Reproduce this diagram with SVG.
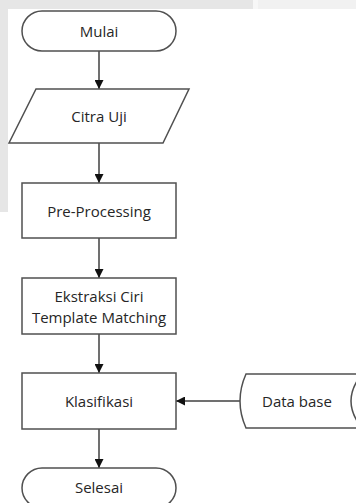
<svg xmlns="http://www.w3.org/2000/svg" width="356" height="503" viewBox="0 0 356 503">
<defs>
<style>
.shape{fill:#ffffff;stroke:#505050;stroke-width:1.5}
.lbl{font-family:"Open Sans","Liberation Sans",sans-serif;font-size:15px;fill:#262626;text-anchor:middle;dominant-baseline:central}
.conn{stroke:#404040;stroke-width:1.5;fill:none}
</style>
<marker id="ah" viewBox="0 0 10 10" refX="10" refY="5" markerWidth="9" markerHeight="9" markerUnits="userSpaceOnUse" orient="auto">
<path d="M0,0 L10,5 L0,10 Z" fill="#111111"/>
</marker>
</defs>
<rect x="0" y="0" width="356" height="503" fill="#ffffff"/>
<rect x="0" y="0" width="253" height="9" fill="#e6e6e6"/>
<rect x="253" y="0" width="5" height="9" fill="#f7f7f7"/>
<rect x="258" y="0" width="98" height="9" fill="#f1f1f1"/>
<rect x="0" y="0" width="8" height="212" fill="#e6e6e6"/>

<g id="connectors">
<line class="conn" x1="99" y1="51" x2="99" y2="89" marker-end="url(#ah)"/>
<line class="conn" x1="99" y1="143" x2="99" y2="183" marker-end="url(#ah)"/>
<line class="conn" x1="99" y1="238" x2="99" y2="278" marker-end="url(#ah)"/>
<line class="conn" x1="99" y1="334" x2="99" y2="373" marker-end="url(#ah)"/>
<line class="conn" x1="99" y1="429" x2="99" y2="468" marker-end="url(#ah)"/>
<line class="conn" x1="241" y1="401" x2="176" y2="401" marker-end="url(#ah)"/>
</g>

<g id="mulai">
<rect class="shape" x="22" y="11" width="154" height="40" rx="20" ry="20"/>
<text class="lbl" x="99" y="31">Mulai</text>
</g>

<g id="citra-uji">
<path class="shape" d="M36,89 L189,89 L163,143 L9,143 Z"/>
<text class="lbl" x="99" y="116">Citra Uji</text>
</g>

<g id="pre-processing">
<rect class="shape" x="22" y="183" width="154" height="55"/>
<text class="lbl" x="99" y="211">Pre-Processing</text>
</g>

<g id="ekstraksi">
<rect class="shape" x="22" y="278" width="154" height="56"/>
<text class="lbl" x="99" y="296">Ekstraksi Ciri</text>
<text class="lbl" x="99" y="317">Template Matching</text>
</g>

<g id="klasifikasi">
<rect class="shape" x="22" y="373" width="154" height="56"/>
<text class="lbl" x="99" y="401">Klasifikasi</text>
</g>

<g id="database">
<path class="shape" d="M246,374 L362,374 Q340,401 362,428 L246,428 Q234,401 246,374 Z"/>
<text class="lbl" x="297" y="401">Data base</text>
</g>

<g id="selesai">
<rect class="shape" x="22" y="468" width="154" height="40" rx="20" ry="20"/>
<text class="lbl" x="99" y="487">Selesai</text>
</g>
</svg>
